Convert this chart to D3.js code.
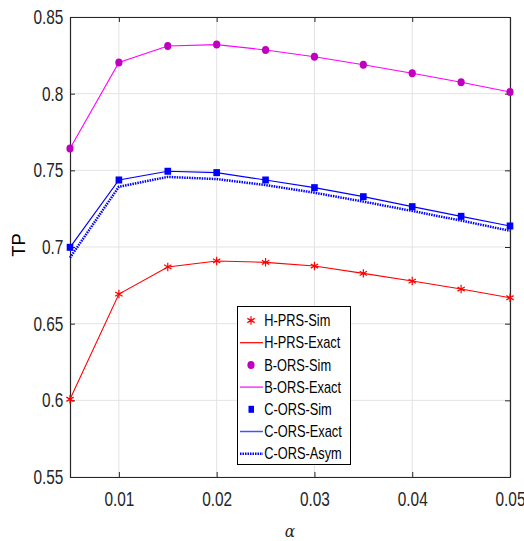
<!DOCTYPE html>
<html><head><meta charset="utf-8">
<script src="https://cdn.jsdelivr.net/npm/d3@7"></script>
<style>body{margin:0;background:#fff}svg{display:block}</style>
</head><body>
<svg id="c" width="524" height="541"></svg>
<script>
const alpha = [0.005,0.01,0.015,0.02,0.025,0.03,0.035,0.04,0.045,0.05];
const hprsSim   = [0.6007,0.6693,0.6870,0.6909,0.6900,0.6876,0.6828,0.6778,0.6726,0.6669];
const hprsExact = [0.6007,0.6693,0.6870,0.6909,0.6900,0.6876,0.6828,0.6778,0.6726,0.6669];
const borsSim   = [0.7643,0.8204,0.8311,0.8320,0.8285,0.8241,0.8189,0.8133,0.8074,0.8011];
const borsExact = [0.7643,0.8204,0.8311,0.8320,0.8285,0.8241,0.8189,0.8133,0.8074,0.8011];
const corsSim   = [0.6998,0.7437,0.7494,0.7485,0.7437,0.7387,0.7328,0.7263,0.7200,0.7137];
const corsExact = [0.6998,0.7437,0.7494,0.7485,0.7437,0.7387,0.7328,0.7263,0.7200,0.7137];
const corsAsym  = [0.6930,0.7393,0.7457,0.7443,0.7404,0.7354,0.7296,0.7235,0.7172,0.7106];
const xTicks = [0.01,0.02,0.03,0.04,0.05];
const yTicks = [0.55,0.6,0.65,0.7,0.75,0.8,0.85];
const legendLabels = ["H-PRS-Sim","H-PRS-Exact","B-ORS-Sim","B-ORS-Exact","C-ORS-Sim","C-ORS-Exact","C-ORS-Asym"];

const svg = d3.select("#c");
const L=70,R=510,T=17,B=477;
const x = d3.scaleLinear().domain([0.005,0.05]).range([L,R]);
const y = d3.scaleLinear().domain([0.55,0.85]).range([B,T]);
const font = "'Liberation Sans', Arial, sans-serif";
const SX = 0.77;

// grid
svg.append("g").selectAll("line").data(xTicks).join("line")
  .attr("x1",d=>x(d)).attr("x2",d=>x(d)).attr("y1",T).attr("y2",B)
  .attr("stroke","#e3e3e3").attr("stroke-width",1);
svg.append("g").selectAll("line").data(yTicks).join("line")
  .attr("x1",L).attr("x2",R).attr("y1",d=>y(d)).attr("y2",d=>y(d))
  .attr("stroke","#e3e3e3").attr("stroke-width",1);

// axes
const xa = svg.append("g").attr("transform",`translate(0,${B})`)
  .call(d3.axisBottom(x).tickValues(xTicks).tickSizeInner(-5).tickSizeOuter(0).tickPadding(15).tickFormat(d3.format(".2~f")));
const ya = svg.append("g").attr("transform",`translate(${L},0)`)
  .call(d3.axisLeft(y).tickValues(yTicks).tickSizeInner(-5).tickSizeOuter(0).tickPadding(8.6).tickFormat(d3.format(".2~f")));
svg.append("g").attr("transform",`translate(0,${T})`)
  .call(d3.axisTop(x).tickValues(xTicks).tickSizeInner(-5).tickSizeOuter(0).tickFormat(""));
svg.append("g").attr("transform",`translate(${R},0)`)
  .call(d3.axisRight(y).tickValues(yTicks).tickSizeInner(-5).tickSizeOuter(0).tickFormat(""));
svg.selectAll(".domain").attr("stroke","#262626").attr("stroke-width",1.2);
svg.selectAll(".tick line").attr("stroke","#262626");
svg.selectAll(".tick text").attr("font-family",font).attr("font-size",20).attr("fill","#262626")
  .attr("transform",`scale(${SX},1)`);

// lines
const line = vals => d3.line().x((d,i)=>x(alpha[i])).y(d=>y(d))(vals);
svg.append("path").attr("d",line(hprsExact)).attr("fill","none").attr("stroke","#ff0000").attr("stroke-width",1.1);
svg.append("path").attr("d",line(borsExact)).attr("fill","none").attr("stroke","#ff00ff").attr("stroke-width",1.1);
svg.append("path").attr("d",line(corsAsym)).attr("fill","none").attr("stroke","#0000ff").attr("stroke-width",2.5).attr("stroke-dasharray","1.5,1");
svg.append("path").attr("d",line(corsExact)).attr("fill","none").attr("stroke","#0000ff").attr("stroke-width",1.2);

// markers
const star = d3.symbol().type(d3.symbolAsterisk).size(50);
svg.append("g").selectAll("path").data(hprsSim).join("path")
  .attr("transform",(d,i)=>`translate(${x(alpha[i])},${y(d)})`).attr("d",star())
  .attr("fill","none").attr("stroke","#ff0000").attr("stroke-width",1.2);
svg.append("g").selectAll("ellipse").data(borsSim).join("ellipse")
  .attr("cx",(d,i)=>x(alpha[i])).attr("cy",d=>y(d)).attr("rx",3.6).attr("ry",4)
  .attr("fill","#bf00bf");
svg.append("g").selectAll("rect").data(corsSim).join("rect")
  .attr("x",(d,i)=>x(alpha[i])-3.3).attr("y",d=>y(d)-3.5).attr("width",6.6).attr("height",7)
  .attr("fill","#0000ff");

// legend
const lg = svg.append("g");
lg.append("rect").attr("x",237.5).attr("y",306.5).attr("width",113).attr("height",158)
  .attr("fill","#fff").attr("stroke","#000").attr("stroke-width",1);
const rowY = i => 320.5 + i*22.2;
legendLabels.forEach((t,i)=>{
  const cy=rowY(i);
  lg.append("text").attr("transform",`translate(264.3,${cy}) scale(0.8,1)`).attr("dy","0.36em")
    .attr("font-family",font).attr("font-size",16).attr("fill","#000").text(t);
});
lg.append("path").attr("transform",`translate(251,${rowY(0)})`).attr("d",star())
  .attr("fill","none").attr("stroke","#ff0000").attr("stroke-width",1.2);
lg.append("line").attr("x1",240).attr("x2",263).attr("y1",rowY(1)).attr("y2",rowY(1)).attr("stroke","#ff0000").attr("stroke-width",1.2);
lg.append("ellipse").attr("cx",251).attr("cy",rowY(2)).attr("rx",3.6).attr("ry",4).attr("fill","#bf00bf");
lg.append("line").attr("x1",240).attr("x2",263).attr("y1",rowY(3)).attr("y2",rowY(3)).attr("stroke","#ff00ff").attr("stroke-width",1.2);
lg.append("rect").attr("x",248.5).attr("y",rowY(4)-3.5).attr("width",5.5).attr("height",7).attr("fill","#0000ff");
lg.append("line").attr("x1",240).attr("x2",263).attr("y1",rowY(5)).attr("y2",rowY(5)).attr("stroke","#4d4dff").attr("stroke-width",1.5);
lg.append("line").attr("x1",240).attr("x2",263).attr("y1",rowY(6)).attr("y2",rowY(6)).attr("stroke","#0000ff").attr("stroke-width",2.5).attr("stroke-dasharray","1.5,1");

// axis labels
svg.append("text").attr("transform","translate(25,245) rotate(-90)").attr("text-anchor","middle")
  .attr("font-family",font).attr("font-size",18.5).attr("fill","#000").text("TP");
svg.append("text").attr("transform","translate(290,537) scale(0.9,1)").attr("text-anchor","middle")
  .attr("font-family","'DejaVu Serif', 'Liberation Serif', serif").attr("font-style","italic").attr("font-size",17).attr("fill","#262626").text("α");
</script>
</body></html>
